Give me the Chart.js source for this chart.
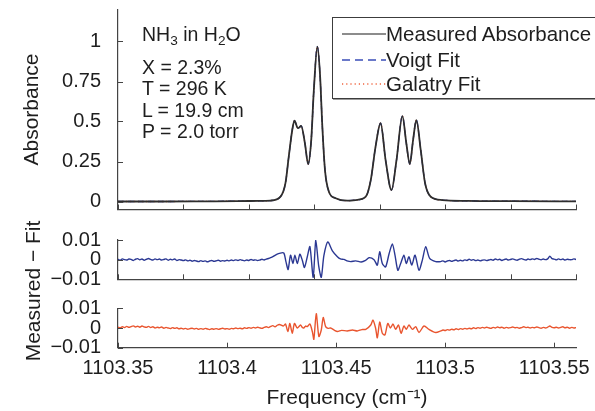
<!DOCTYPE html>
<html lang="en">
<head>
  <meta charset="UTF-8">
  <title>NH3 absorbance fit</title>
  <script src="https://cdn.jsdelivr.net/npm/chart.js"></script>
  <style>
    body {
      margin: 0;
      background: #fff;
      font-family: "Liberation Sans", Arial, sans-serif;
      color: #1e1e1e;
    }
    #wrap {
      position: relative;
      width: 595px;
      height: 411px;
      overflow: hidden;
    }
    canvas {
      position: absolute;
      left: 0;
      top: 0;
    }
    #note div {
      position: absolute;
      left: 142px;
      font-size: 19.5px;
      line-height: 22px;
      white-space: nowrap;
    }
    #note sub {
      font-size: 70%;
      vertical-align: baseline;
      position: relative;
      top: 0.3em;
    }
    #legend {
      position: absolute;
      left: 332px;
      top: 17px;
      width: 262px;
      height: 80px;
      border: 1.5px solid #3c3c3c;
      box-shadow: 1px 1px 0 #9a9a9a;
      background: #fff;
    }
    #legend .row {
      position: absolute;
      left: 0;
      height: 22px;
      font-size: 20.5px;
      line-height: 22px;
      white-space: nowrap;
    }
    #legend svg {
      position: absolute;
      left: 9px;
      top: 9px;
    }
    #legend span {
      position: absolute;
      left: 53px;
      top: 0;
    }
    #residTitle {
      position: absolute;
      left: 33px;
      top: 291px;
      width: 200px;
      text-align: center;
      font-size: 21px;
      line-height: 24px;
      transform: translate(-50%, -50%) rotate(-90deg);
      white-space: nowrap;
    }
  </style>
</head>
<body>
<div id="wrap">
  <canvas id="absChart" width="595" height="411"></canvas>
  <canvas id="voigtChart" width="595" height="411"></canvas>
  <canvas id="galatryChart" width="595" height="411"></canvas>
  <div id="note">
    <div style="top:23px">NH<sub>3</sub> in H<sub>2</sub>O</div>
    <div style="top:56px">X = 2.3%</div>
    <div style="top:77px">T = 296 K</div>
    <div style="top:99px">L = 19.9 cm</div>
    <div style="top:120px">P = 2.0 torr</div>
  </div>
  <div id="legend"></div>
  <div id="residTitle">Measured − Fit</div>
</div>

<script>
// ---- data ----
// absorbance spectrum, frequency in cm-1
const freq = [
  1103.350, 1103.370, 1103.390, 1103.405, 1103.415, 1103.4199, 1103.4245, 1103.4268,
  1103.4283, 1103.4299, 1103.4309, 1103.4325, 1103.4340, 1103.4357, 1103.4372, 1103.4386,
  1103.4398, 1103.4414, 1103.4426, 1103.4437, 1103.4449, 1103.4467, 1103.4498, 1103.4551,
  1103.4590, 1103.4636, 1103.4659, 1103.4681, 1103.4704, 1103.4727, 1103.4754, 1103.4777,
  1103.4804, 1103.4822, 1103.4838, 1103.4853, 1103.4868, 1103.4888, 1103.4908, 1103.4934,
  1103.4988, 1103.510, 1103.530, 1103.560
];
const absorbance = [
  0.000, 0.000, 0.001, 0.002, 0.004, 0.006, 0.030, 0.116,
  0.280, 0.447, 0.505, 0.458, 0.472, 0.364, 0.234, 0.384,
  0.697, 0.968, 0.800, 0.467, 0.197, 0.061, 0.020, 0.005,
  0.009, 0.030, 0.134, 0.343, 0.489, 0.259, 0.072, 0.259,
  0.534, 0.364, 0.234, 0.384, 0.509, 0.322, 0.114, 0.030,
  0.009, 0.004, 0.002, 0.001
];
// the two fits overlay the measurement to within a pixel
const voigtFit = absorbance;
const galatryFit = absorbance;

// residuals: baseline noise every 0.001 cm-1, plus the structure near the lines
const noiseStep = 0.001;
const leftStart = 1103.350;
const rightStart = 1103.498;

const voigtNoiseLeft = [
  0.0002, -0.0003, 0.0004, 0.0000, -0.0002, 0.0003, 0.0001, -0.0004, 0.0002, 0.0005,
  -0.0001, 0.0003, -0.0003, 0.0002, 0.0006, 0.0001, -0.0002, 0.0004, 0.0000, 0.0003,
  -0.0002, 0.0001, 0.0004, -0.0003, 0.0002, -0.0001, 0.0003, -0.0004, 0.0000, -0.0002,
  -0.0005, -0.0001, -0.0006, -0.0003, -0.0008, -0.0004, -0.0007, -0.0010, -0.0005, -0.0009,
  -0.0006, -0.0011, -0.0007, -0.0004, -0.0009, -0.0006, -0.0003, -0.0008, -0.0005, -0.0007,
  -0.0003, -0.0006, -0.0002, -0.0005, -0.0001, -0.0004, 0.0000, -0.0003, -0.0006, -0.0002,
  -0.0004, 0.0001, -0.0003, -0.0001, -0.0005, -0.0002, 0.0002, -0.0002, 0.0003, 0.0006,
  0.0010, 0.0015, 0.0022, 0.0028, 0.0032
];
const voigtLines = [
  [1103.4260, 0.0034], [1103.4270, -0.0010], [1103.4280, -0.0050], [1103.4291, 0.0023],
  [1103.4302, -0.0020], [1103.4311, 0.0023], [1103.4322, -0.0020], [1103.4334, 0.0028],
  [1103.4345, -0.0003], [1103.4355, -0.0040], [1103.4368, 0.0015], [1103.4380, 0.0066],
  [1103.4395, -0.0090], [1103.4407, 0.0100], [1103.4420, -0.0030], [1103.4432, -0.0090],
  [1103.4444, 0.0020], [1103.4462, 0.0090], [1103.4483, 0.0045], [1103.4506, 0.0015],
  [1103.4520, 0.0004], [1103.4536, 0.0001], [1103.4550, -0.0006], [1103.4567, -0.0010],
  [1103.4590, -0.0006], [1103.4615, -0.0012], [1103.4635, -0.0004], [1103.4651, 0.0010],
  [1103.4674, 0.0000], [1103.4689, -0.0028], [1103.4700, 0.0040], [1103.4712, -0.0020],
  [1103.4727, -0.0037], [1103.4743, 0.0030], [1103.4758, 0.0080], [1103.4770, 0.0023],
  [1103.4783, -0.0054], [1103.4796, -0.0020], [1103.4811, 0.0023], [1103.4822, -0.0020],
  [1103.4834, 0.0015], [1103.4847, -0.0028], [1103.4862, 0.0023], [1103.4880, -0.0054],
  [1103.4896, 0.0000], [1103.4911, 0.0066], [1103.4929, 0.0006], [1103.4957, -0.0010]
];
const voigtNoiseRight = [
  -0.0010, -0.0006, -0.0012, -0.0007, -0.0004, -0.0009, -0.0005, -0.0002, -0.0007, -0.0003,
  -0.0006, -0.0001, -0.0004, 0.0002, -0.0003, 0.0000, -0.0005, -0.0002, -0.0006, -0.0003,
  -0.0001, -0.0005, -0.0002, 0.0001, -0.0003, 0.0003, -0.0001, 0.0002, -0.0004, 0.0000,
  0.0003, -0.0002, 0.0001, 0.0004, 0.0000, -0.0003, 0.0002, 0.0005, 0.0001, -0.0002,
  0.0003, 0.0000, 0.0004, 0.0001, 0.0006, 0.0002, -0.0001, 0.0003, 0.0000, 0.0004,
  0.0018, 0.0005, 0.0003, -0.0001, 0.0004, 0.0000, 0.0003, -0.0002, 0.0002, 0.0000,
  0.0000, 0.0004, 0.0001
];

const galatryNoiseLeft = [
  0.0004, 0.0001, 0.0006, 0.0002, 0.0008, 0.0003, 0.0007, 0.0011, 0.0005, 0.0009,
  0.0004, 0.0010, 0.0006, 0.0003, 0.0008, 0.0002, 0.0006, 0.0000, 0.0004, 0.0001,
  0.0005, -0.0001, 0.0003, 0.0000, -0.0003, 0.0002, -0.0002, 0.0001, -0.0004, -0.0001,
  -0.0005, -0.0002, -0.0006, -0.0003, -0.0001, -0.0005, -0.0002, -0.0007, -0.0003, -0.0006,
  -0.0002, -0.0005, -0.0008, -0.0004, -0.0006, -0.0003, -0.0007, -0.0004, -0.0001, -0.0005,
  -0.0003, -0.0006, -0.0002, -0.0004, 0.0000, -0.0003, -0.0001, -0.0004, 0.0001, -0.0002,
  0.0002, -0.0001, 0.0003, 0.0000, 0.0004, 0.0001, -0.0002, 0.0003, 0.0006, 0.0002,
  0.0008, 0.0012, 0.0006, 0.0014, 0.0018
];
const galatryLines = [
  [1103.4258, 0.0010], [1103.4268, 0.0020], [1103.4279, -0.0018], [1103.4288, 0.0023],
  [1103.4299, -0.0027], [1103.4309, 0.0023], [1103.4322, 0.0000], [1103.4337, 0.0015],
  [1103.4345, 0.0003], [1103.4352, 0.0000], [1103.4360, 0.0010], [1103.4368, 0.0007],
  [1103.4380, 0.0020], [1103.4391, -0.0018], [1103.4398, -0.0057], [1103.4409, 0.0073],
  [1103.4421, -0.0043], [1103.4432, -0.0010], [1103.4441, 0.0053], [1103.4452, 0.0007],
  [1103.4463, -0.0002], [1103.4475, 0.0000], [1103.4490, -0.0010], [1103.4506, -0.0018],
  [1103.4525, -0.0012], [1103.4551, -0.0015], [1103.4575, -0.0010], [1103.4597, -0.0015],
  [1103.4618, -0.0008], [1103.4636, -0.0007], [1103.4659, 0.0015], [1103.4669, 0.0040],
  [1103.4681, 0.0000], [1103.4689, -0.0050], [1103.4700, 0.0030], [1103.4712, -0.0027],
  [1103.4724, -0.0035], [1103.4737, 0.0023], [1103.4749, 0.0000], [1103.4761, 0.0020],
  [1103.4773, -0.0007], [1103.4786, 0.0015], [1103.4798, -0.0027], [1103.4811, 0.0010],
  [1103.4822, -0.0007], [1103.4834, 0.0015], [1103.4850, -0.0007], [1103.4865, 0.0007],
  [1103.4880, -0.0023], [1103.4903, 0.0010], [1103.4926, -0.0007], [1103.4957, -0.0023]
];
const galatryNoiseRight = [
  -0.0015, -0.0010, -0.0013, -0.0008, -0.0011, -0.0006, -0.0009, -0.0004, -0.0008, -0.0003,
  -0.0006, -0.0002, -0.0005, -0.0001, -0.0004, 0.0001, -0.0003, 0.0002, -0.0001, 0.0003,
  0.0000, 0.0004, 0.0001, -0.0002, 0.0003, 0.0000, 0.0005, 0.0001, 0.0004, -0.0001,
  0.0003, 0.0000, 0.0002, 0.0005, 0.0001, 0.0003, -0.0001, 0.0002, 0.0006, 0.0002,
  0.0004, 0.0000, 0.0003, 0.0001, 0.0005, 0.0002, -0.0001, 0.0003, 0.0000, 0.0004,
  0.0010, 0.0003, 0.0001, 0.0004, 0.0000, 0.0003, 0.0006, 0.0001, 0.0004, -0.0001,
  0.0003, 0.0000, 0.0002
];

// tick values
const freqMin = 1103.35;
const freqMax = 1103.56;
const freqTicksMinor = [1103.35, 1103.38, 1103.41, 1103.44, 1103.47, 1103.50, 1103.53, 1103.56];
const freqTicksLabelled = [1103.35, 1103.40, 1103.45, 1103.50, 1103.55];
const absTicks = [0, 0.25, 0.5, 0.75, 1];
const residTicks = [-0.01, 0, 0.01];

// ---- styling ----
const FONT = '"Liberation Sans", Arial, sans-serif';
const AXIS = '#444';
Chart.defaults.font.family = FONT;
Chart.defaults.color = '#1e1e1e';

// MATLAB style: short tick marks pointing into the plot
const inwardTicks = {
  id: 'inwardTicks',
  afterDraw(chart) {
    const {ctx, chartArea: a, scales: {x, y}} = chart;
    ctx.save();
    ctx.strokeStyle = AXIS;
    ctx.lineWidth = 1;
    ctx.beginPath();
    x.ticks.forEach(t => {
      const px = Math.round(x.getPixelForValue(t.value)) + 0.5;
      ctx.moveTo(px, a.bottom);
      ctx.lineTo(px, a.bottom - 5);
    });
    y.ticks.forEach(t => {
      const py = Math.round(y.getPixelForValue(t.value)) + 0.5;
      ctx.moveTo(a.left, py);
      ctx.lineTo(a.left + 5, py);
    });
    ctx.stroke();
    ctx.restore();
  }
};

function fixedTicks(values) {
  return scale => { scale.ticks = values.map(v => ({value: v})); };
}

function fmt(v) {
  const s = String(Math.round(Math.abs(v) * 1e4) / 1e4);
  return v < -1e-9 ? '\u2212' + s : s;
}

function makeChart(id, datasets, o) {
  return new Chart(document.getElementById(id), {
    type: 'line',
    data: { datasets },
    plugins: [inwardTicks],
    options: {
      responsive: false,
      animation: false,
      events: [],
      layout: { padding: o.padding },
      plugins: { legend: { display: false }, tooltip: { enabled: false } },
      elements: { point: { radius: 0 } },
      scales: {
        x: {
          type: 'linear',
          min: freqMin,
          max: freqMax,
          afterBuildTicks: fixedTicks(o.xTicks),
          grid: { display: false, drawTicks: false },
          border: { display: true, color: AXIS, width: 1.2 },
          ticks: {
            display: o.xLabels,
            padding: 9,
            font: { size: 20 },
            maxRotation: 0,
            autoSkip: false,
            callback: v => fmt(v)
          },
          title: {
            display: o.xLabels,
            text: 'Frequency (cm\u207B\u00B9)',
            font: { size: 21 },
            padding: { top: 0, bottom: 0 }
          },
          afterFit(scale) {
            scale.height = o.xHeight;
            scale.paddingLeft = 0;
            scale.paddingRight = 0;
          }
        },
        y: {
          min: o.yMin,
          max: o.yMax,
          afterBuildTicks: fixedTicks(o.yTicks),
          grid: { display: false, drawTicks: false },
          border: { display: true, color: AXIS, width: 1.2 },
          ticks: { padding: 17, autoSkip: false, font: { size: 20 }, callback: v => fmt(v) },
          title: {
            display: !!o.yTitle,
            text: o.yTitle || '',
            font: { size: 21 },
            padding: { top: 20, bottom: 0 }
          },
          afterFit(scale) {
            scale.width = 118;
            scale.paddingTop = 0;
            scale.paddingBottom = 0;
          }
        }
      }
    }
  });
}

const toXY = (xs, ys) => xs.map((x, i) => ({x, y: ys[i]}));

function residualPoints(left, lines, right) {
  const pts = left.map((v, i) => ({x: leftStart + i * noiseStep, y: v}));
  lines.forEach(([f, v]) => pts.push({x: f, y: v}));
  right.forEach((v, i) => pts.push({x: rightStart + i * noiseStep, y: v}));
  return pts;
}

const spectrumSets = [
  {
    label: 'Measured Absorbance',
    data: toXY(freq, absorbance),
    borderColor: '#2e2e2e',
    legendColor: '#666',
    legendDash: 'none',
    borderWidth: 1.8,
    cubicInterpolationMode: 'monotone'
  },
  {
    label: 'Voigt Fit',
    data: toXY(freq, voigtFit),
    borderColor: '#3a4db8',
    borderDash: [6, 4],
    legendDash: '8 5',
    borderWidth: 1.3,
    cubicInterpolationMode: 'monotone'
  },
  {
    label: 'Galatry Fit',
    data: toXY(freq, galatryFit),
    borderColor: '#f0643f',
    borderDash: [1.2, 2.8],
    legendDash: '1.2 3',
    borderWidth: 1.3,
    cubicInterpolationMode: 'monotone'
  }
];

makeChart('absChart', spectrumSets, {
  padding: { left: 0, right: 19, top: 9.5, bottom: 201.5 },
  xTicks: freqTicksMinor, xLabels: false, xHeight: 0,
  yMin: -0.05, yMax: 1.2, yTicks: absTicks, yTitle: 'Absorbance'
});

makeChart('voigtChart', [{
  label: 'Measured - Voigt',
  data: residualPoints(voigtNoiseLeft, voigtLines, voigtNoiseRight),
  borderColor: '#2b3893',
  borderWidth: 1.4,
  tension: 0.25
}], {
  padding: { left: 0, right: 19, top: 240, bottom: 131.7 },
  xTicks: freqTicksMinor, xLabels: false, xHeight: 0,
  yMin: -0.01, yMax: 0.01, yTicks: residTicks
});

makeChart('galatryChart', [{
  label: 'Measured - Galatry',
  data: residualPoints(galatryNoiseLeft, galatryLines, galatryNoiseRight),
  borderColor: '#e9552f',
  borderWidth: 1.4,
  tension: 0.25
}], {
  padding: { left: 0, right: 19, top: 308.3, bottom: 0 },
  xTicks: freqTicksLabelled, xLabels: true, xHeight: 63.3,
  yMin: -0.01, yMax: 0.01, yTicks: residTicks
});

// legend box built from the spectrum datasets
const legend = document.getElementById('legend');
const rowTops = [5, 31, 55];
spectrumSets.forEach((ds, i) => {
  const row = document.createElement('div');
  row.className = 'row';
  row.style.top = rowTops[i] + 'px';
  row.innerHTML =
    '<svg width="44" height="4"><line x1="0" y1="2" x2="44" y2="2" stroke="' +
    (ds.legendColor || ds.borderColor) + '" stroke-width="1.4" stroke-dasharray="' +
    ds.legendDash + '"/></svg>' +
    '<span>' + ds.label + '</span>';
  legend.appendChild(row);
});
</script>
</body>
</html>
